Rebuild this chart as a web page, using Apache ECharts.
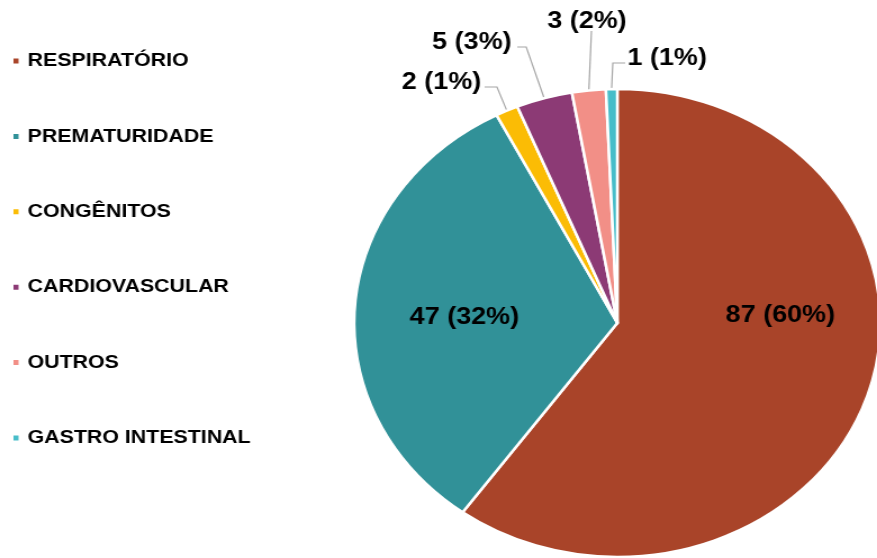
<!DOCTYPE html>
<html lang="pt">
<head>
    <meta charset="UTF-8">
    <title>Causas</title>
    <script src="https://cdn.jsdelivr.net/npm/echarts@6.0.0/dist/echarts.min.js"></script>
    <style>
        html, body { margin: 0; padding: 0; background: #fff; overflow: hidden; }
        /* the reference is stretched horizontally, so the whole chart is too */
        #chart {
            width: 780px;
            height: 558px;
            transform: scaleX(1.1244);
            transform-origin: 0 0;
        }
    </style>
</head>
<body>
    <div id="chart"></div>
    <script>
        const categories = ['RESPIRATÓRIO', 'PREMATURIDADE', 'CONGÊNITOS', 'CARDIOVASCULAR', 'OUTROS', 'GASTRO INTESTINAL'];
        const counts = [87, 47, 2, 5, 3, 1];
        const colors = ['#A94429', '#319198', '#FBBC05', '#8C3A75', '#F28F87', '#47BDC9'];

        // where the labels sit (unscaled px), like Excel's best fit
        const labelSpots = [
            { x: 694, y: 315, align: 'center' },
            { x: 413, y: 317, align: 'center' },
            { x: 428, y: 82, align: 'right', line: [[442, 87], [431, 87]] },
            { x: 455, y: 42, align: 'right', line: [[468, 47], [460, 47]] },
            { x: 522, y: 21, align: 'center', line: [[526, 31]] },
            { x: 558, y: 58, align: 'left', line: [[545, 63], [556, 63]] }
        ];

        const font = "'Liberation Sans', Arial, sans-serif";

        const chart = echarts.init(document.getElementById('chart'));

        const data = categories.map(function (name, i) {
            const item = { name: name, value: counts[i], itemStyle: { color: colors[i] } };
            if (i < 2) {
                item.label = { position: 'inside' };
                item.labelLine = { show: false };
            }
            return item;
        });

        chart.setOption({
            animation: false,
            legend: {
                orient: 'vertical',
                left: 10,
                top: 51,
                padding: 0,
                icon: 'rect',
                itemWidth: 6.5,
                itemHeight: 7,
                itemGap: 55.4,
                selectedMode: false,
                textStyle: {
                    fontFamily: font,
                    fontWeight: 'bold',
                    fontSize: 19,
                    lineHeight: 20,
                    color: '#000',
                    padding: [0, 0, 0, 2]
                },
                data: categories
            },
            series: [{
                type: 'pie',
                center: [549, 323],
                radius: 234,
                startAngle: 90,
                clockwise: true,
                avoidLabelOverlap: false,
                itemStyle: { borderColor: '#fff', borderWidth: 2.5 },
                label: {
                    position: 'outside',
                    fontFamily: font,
                    fontWeight: 'bold',
                    fontSize: 24,
                    color: '#000',
                    formatter: function (p) {
                        return p.value + ' (' + Math.round(p.percent) + '%)';
                    }
                },
                labelLine: {
                    show: true,
                    length: 15,
                    length2: 10,
                    lineStyle: { color: '#A6A6A6', width: 1.2 }
                },
                labelLayout: function (params) {
                    const s = labelSpots[params.dataIndex];
                    const out = { x: s.x, y: s.y, align: s.align, verticalAlign: 'middle' };
                    if (s.line && params.labelLinePoints) {
                        out.labelLinePoints = [params.labelLinePoints[0]].concat(s.line);
                    }
                    return out;
                },
                emphasis: { disabled: true },
                data: data
            }]
        });
    </script>
</body>
</html>
